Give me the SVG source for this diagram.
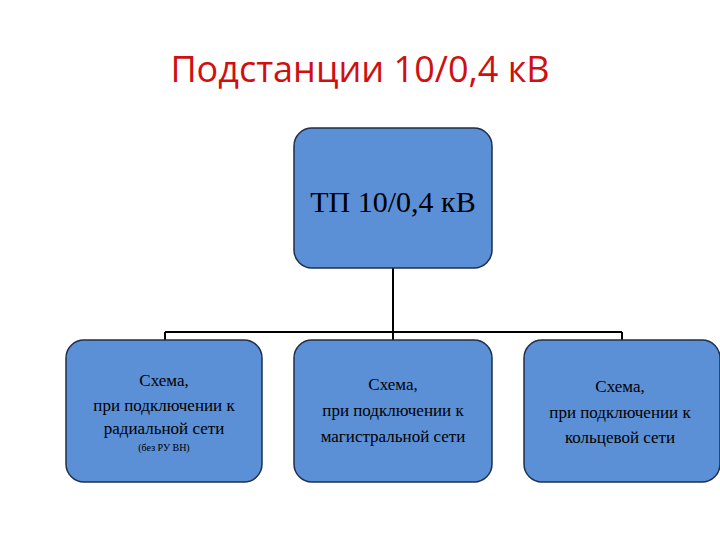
<svg xmlns="http://www.w3.org/2000/svg" width="720" height="540" viewBox="0 0 720 540">
<style>
.box{fill:#5b8fd6;stroke:#1f2f4a;stroke-width:1.5}
.t{font-family:"Liberation Serif",serif;fill:#000;text-anchor:middle}
.c{stroke:#000;stroke-width:2;fill:none}
</style>
<rect width="720" height="540" fill="#fff"/>
<text x="360" y="82" font-family="Open Sans,Liberation Sans,sans-serif" font-size="36" fill="#d01010" text-anchor="middle">Подстанции 10/0,4 кВ</text>
<g id="connectors">
<path class="c" d="M393 268V332M165 332H622M165 332V340M393 332V340M622 332V340"/>
</g>
<g id="tp">
<rect class="box" x="294" y="128" width="198" height="140" rx="18"/>
<text class="t" x="393" y="212" font-size="30">ТП 10/0,4 кВ</text>
</g>
<g id="radial">
<rect class="box" x="66" y="340" width="196" height="142" rx="18"/>
<text class="t" font-size="17"><tspan x="164" y="386">Схема,</tspan><tspan x="164" y="411">при подключении к</tspan><tspan x="164" y="434">радиальной сети</tspan></text>
<text class="t" x="164" y="451" font-size="10">(без РУ ВН)</text>
</g>
<g id="main">
<rect class="box" x="294" y="340" width="198" height="142" rx="18"/>
<text class="t" font-size="17"><tspan x="393" y="390">Схема,</tspan><tspan x="393" y="416">при подключении к</tspan><tspan x="393" y="442">магистральной сети</tspan></text>
</g>
<g id="ring">
<rect class="box" x="524" y="340" width="196" height="142" rx="18"/>
<text class="t" font-size="17"><tspan x="620" y="392">Схема,</tspan><tspan x="620" y="418">при подключении к</tspan><tspan x="620" y="443">кольцевой сети</tspan></text>
</g>
</svg>
